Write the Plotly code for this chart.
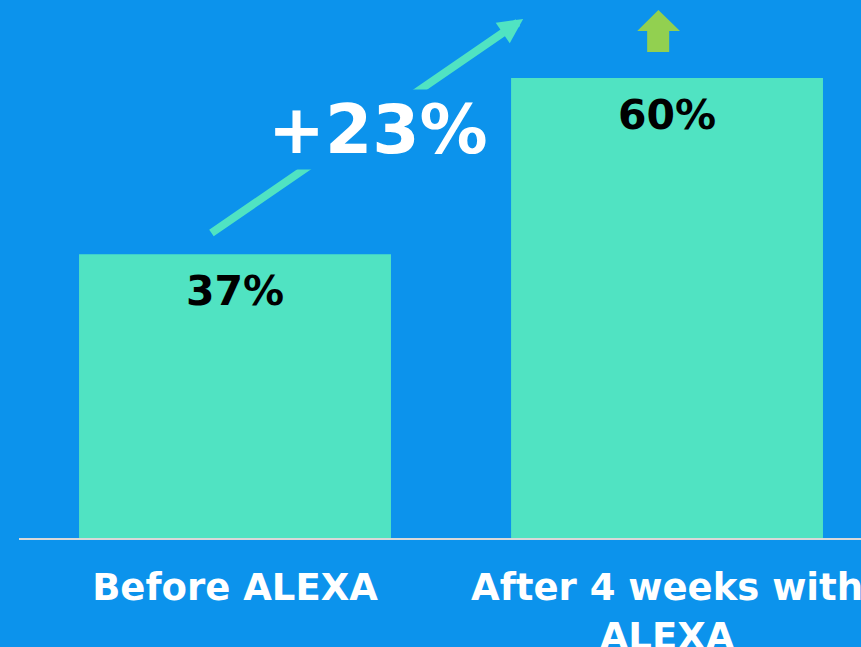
import plotly.graph_objects as go

categories = ["Before ALEXA", "After 4 weeks with<br>ALEXA"]
values = [37, 60]
value_labels = ["37%", "60%"]
change_label = "+23%"

BG = "#0C93EC"
BAR = "#50E3C2"
GREEN = "#92D050"
FONT = "DejaVu Sans"

fig = go.Figure()
fig.add_trace(go.Bar(x=[0, 1], y=values, marker=dict(color=BAR, line=dict(width=0)),
                     hoverinfo="skip", showlegend=False))

# value labels inside bar tops
for i, (v, t) in enumerate(zip(values, value_labels)):
    fig.add_annotation(x=i, y=v, text=f"<b>{t}</b>", showarrow=False, yanchor="top",
                       yshift=-11, font=dict(family=FONT, size=41, color="black"))

# rising arrow (decoration)
fig.add_annotation(x=0.667, y=67.7, ax=-0.058, ay=39.65, axref="x", ayref="y",
                   xref="x", yref="y", text="", showarrow=True, arrowhead=2,
                   arrowsize=0.62, arrowwidth=8, arrowcolor=BAR, standoff=0, startstandoff=0)
# change label with background that interrupts arrow
fig.add_annotation(x=0.331, y=53.3, text=f"<b>{change_label}</b>", showarrow=False,
                   bgcolor=BG, borderpad=0,
                   font=dict(family=FONT, size=68, color="white"))

# green up arrow (decoration)
ux = [0.931, 0.980, 1.030, 1.005, 1.005, 0.954, 0.954, 0.931]
uy = [66.13, 68.87, 66.13, 66.13, 63.39, 63.39, 66.13, 66.13]
fig.add_trace(go.Scatter(x=ux, y=uy, fill="toself", fillcolor=GREEN, mode="none",
                         hoverinfo="skip", showlegend=False))

fig.update_layout(
    width=861, height=647,
    margin=dict(l=19, r=0, t=0, b=109, autoexpand=False),
    paper_bgcolor=BG, plot_bgcolor=BG,
    bargap=0.278,
    xaxis=dict(range=[-0.5, 1.449], tickvals=[0, 1], ticktext=[f"<b>{c}</b>" for c in categories],
               showline=True, linecolor="#D9D9D9", linewidth=2, showgrid=False, zeroline=False,
               ticks="", ticklabelstandoff=16, ticklabeloverflow="allow", automargin=False,
               tickfont=dict(family=FONT, size=37, color="white")),
    yaxis=dict(range=[0, 70.17], visible=False, showgrid=False, zeroline=False, automargin=False),
)

fig.write_html("out.html", config={"displayModeBar": False},
               post_script="document.body.style.margin='0';document.body.style.padding='0';")
